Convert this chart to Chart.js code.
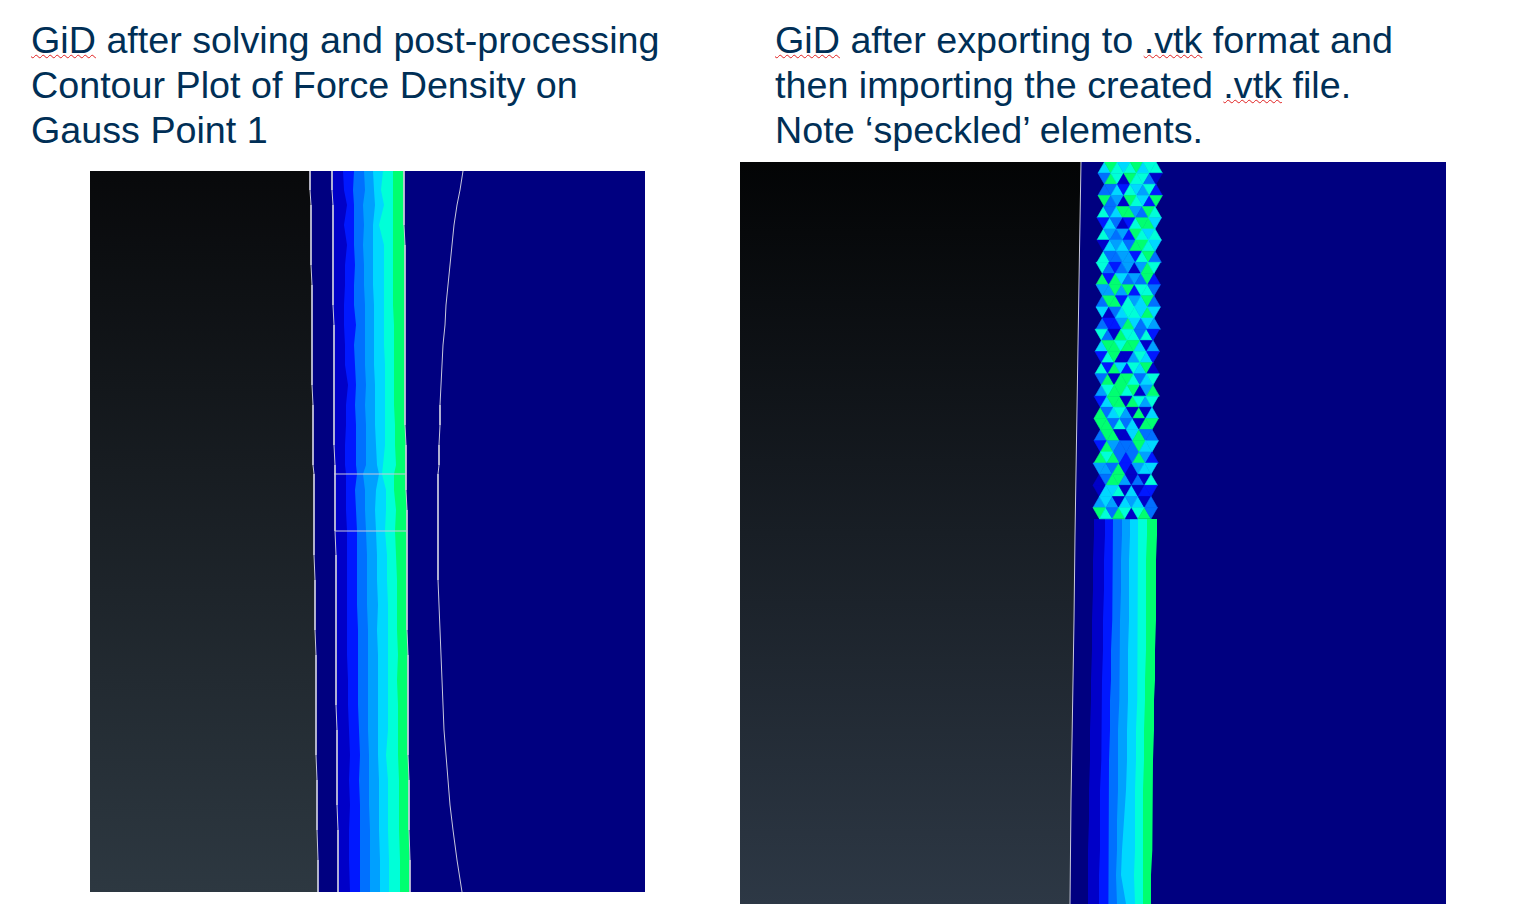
<!DOCTYPE html>
<html>
<head>
<meta charset="utf-8">
<script src="https://cdn.jsdelivr.net/npm/chart.js@4"></script>
<style>
  html, body { margin: 0; background: #fff; overflow: hidden; }
  canvas { position: absolute; background: #000080; }
  .note {
    position: absolute;
    font: 37.7px/45px "Liberation Sans", Arial, sans-serif;
    color: #002f56;
    white-space: nowrap;
  }
  .sp { text-decoration: underline wavy #e02020 1px; text-underline-offset: 1px; }
</style>
</head>
<body>
<div class="note" style="left:31px;top:18px">
  <span class="sp">GiD</span> after solving and post-processing<br>Contour Plot of Force Density on<br>Gauss Point 1
</div>
<div class="note" style="left:775px;top:18px">
  <span class="sp">GiD</span> after exporting to <span class="sp">.vtk</span> format and<br>then importing the created <span class="sp">.vtk</span> file.<br>Note ‘speckled’ elements.
</div>
<canvas id="leftPlot" width="555" height="721" style="left:90px;top:171px"></canvas>
<canvas id="rightPlot" width="706" height="742" style="left:740px;top:162px"></canvas>
<script>
// contour level colours, low to high
const levelColors = ['#000080', '#0000c8', '#0018ff', '#0070ff', '#00a0ff', '#00d8ff', '#00ffd8', '#00ff70'];

// left plot: contour band edges along the height
const leftY = [171,190,205,225,245,265,285,305,325,345,365,385,405,425,445,465,474,490,510,531,555,580,605,630,655,680,705,730,755,780,805,830,860,892];
const leftBody = [310,310,311,311,311,311,312,312,312,312,312,312,313,313,313,313,314,314,314,314,314,315,315,315,316,316,316,316,316,317,317,317,318,318];
const leftInner = [332,332,333,333,333,333,333,333,334,334,334,334,334,334,334,335,335,335,335,335,336,336,336,336,336,336,336,337,337,337,337,338,338,338];
const leftBand1 = [343,344,347,344,347,345,345,344,344,345,345,348,346,346,345,345,346,346,346,347,347,347,347,347,347,348,348,349,350,349,350,349,349,350];
const leftBand2 = [354,353,354,354,354,355,354,354,356,354,355,356,355,356,356,356,357,355,356,357,357,357,357,358,358,358,358,359,360,359,360,360,360,360];
const leftBand3 = [364,365,363,364,363,364,364,365,365,365,365,366,365,366,366,366,363,365,365,366,367,367,367,368,368,368,368,368,369,369,369,370,370,370];
const leftBand4 = [373,374,375,373,373,373,373,374,374,374,374,375,375,375,376,377,379,376,375,376,377,377,378,377,378,378,378,378,378,379,379,379,380,380];
const leftBand5 = [383,381,384,379,384,384,384,384,384,384,385,385,385,385,385,383,382,386,386,385,387,387,388,388,388,388,388,388,386,388,388,388,389,389];
const leftBand6 = [393,393,393,393,393,393,393,393,394,394,394,394,394,395,395,396,394,394,396,395,396,397,397,397,398,397,398,398,398,399,399,399,400,400];
const leftBand7 = [404,404,404,404,405,405,405,405,405,405,405,405,405,405,406,406,406,406,407,407,407,407,407,407,408,408,408,408,408,409,409,409,410,410];
const leftOuter = [463,460,457,454,452,450,448,446,445,443,442,441,440,440,439,439,438,438,438,438,438,438,439,440,441,442,443,444,446,448,450,453,457,462];
const leftCuts = [474, 531];
const leftCutFrom = [334, 335];
const leftCutTo = [406, 406];

// right plot: solid bands under the speckled part
const rightY = [519,535,560,590,620,650,680,700,730,760,790,820,850,875,904];
const rightBand0 = [1094,1094,1093,1093,1092,1092,1091,1091,1090,1090,1089,1089,1088,1088,1088];
const rightBand1 = [1105,1105,1104,1104,1103,1103,1102,1102,1101,1101,1100,1100,1100,1099,1099];
const rightBand2 = [1113,1113,1112,1112,1112,1111,1111,1110,1110,1109,1108,1108,1108,1109,1109];
const rightBand3 = [1122,1122,1121,1121,1120,1120,1119,1119,1118,1118,1118,1117,1117,1116,1117];
const rightBand4 = [1130,1130,1129,1129,1129,1128,1128,1128,1127,1127,1126,1124,1122,1121,1126];
const rightBand5 = [1138,1138,1138,1137,1137,1137,1137,1137,1136,1136,1135,1135,1135,1134,1135];
const rightBand6 = [1147,1147,1146,1146,1146,1146,1145,1145,1144,1144,1143,1143,1143,1143,1143];
const rightBand7 = [1157,1157,1156,1156,1156,1155,1155,1154,1154,1153,1153,1152,1152,1151,1151];
const rightEdgeY = [162,250,345,440,535,620,700,800,904];
const rightEdge = [1081,1079.5,1078,1076.5,1075,1074,1072.7,1071,1070];

// speckled elements, one string per mesh row, one digit per triangle
const speckleRows = [
  '576567566', '376176631', '335265462', '734176527', '635774376', '253126775',
  '643427656', '154537765', '633442673', '632341476', '727534372', '447472663',
  '377264573', '513566575', '322475354', '631766362', '577677514', '267114652',
  '627526571', '371776356', '467767147', '257717646', '735641715', '773635177',
  '377115733', '274333755', '767323742', '443721455', '137741316', '155615122',
  '454154513', '763761673'
];
const speckleStart = [1098,1098,1098,1098,1097,1097,1097,1097,1097,1096,1096,1096,1096,1096,1096,1095,1095,1095,1095,1095,1095,1094,1094,1094,1094,1094,1094,1093,1093,1093,1093,1093];

const toPoints = (xs, ys) => xs.map((x, i) => ({ x, y: ys[i] }));

// dark body on the left of each view, lighter towards the bottom
function bodyGradient(top, bottom) {
  return ({ chart }) => {
    if (!chart.chartArea) return top;
    const g = chart.ctx.createLinearGradient(0, chart.chartArea.top, 0, chart.chartArea.bottom);
    g.addColorStop(0, top);
    g.addColorStop(1, bottom);
    return g;
  };
}

// each band is filled from its right edge back to the left side of the plot,
// the later datasets are painted first so the layers overlap without seams
function band(xs, ys, color, xMin) {
  return { data: toPoints(xs, ys), backgroundColor: color, fill: { value: xMin }, borderWidth: 0, pointRadius: 0, tension: 0 };
}

function wire(xs, ys) {
  return { data: toPoints(xs, ys), borderColor: '#c8c8dc', borderWidth: 1, pointRadius: 0, fill: false, tension: 0 };
}

function triangles(points, radius) {
  return {
    data: points,
    showLine: false,
    pointStyle: 'triangle',
    pointRadius: radius,
    pointBorderWidth: 0.6,
    pointRotation: ctx => (ctx.raw && ctx.raw.up ? 0 : 180),
    pointBackgroundColor: ctx => levelColors[ctx.raw ? ctx.raw.level : 0],
    pointBorderColor: ctx => levelColors[ctx.raw ? ctx.raw.level : 0]
  };
}

function makeOptions(xMin, xMax, yMin, yMax) {
  return {
    indexAxis: 'y',
    responsive: false,
    animation: false,
    devicePixelRatio: 1,
    layout: { padding: 0, autoPadding: false },
    plugins: { legend: { display: false }, tooltip: { enabled: false } },
    scales: {
      x: { type: 'linear', display: false, min: xMin, max: xMax },
      y: { type: 'linear', display: false, min: yMin, max: yMax, reverse: true }
    }
  };
}

new Chart(document.getElementById('leftPlot'), {
  type: 'line',
  data: {
    datasets: [
      wire([leftCutFrom[0], leftCutTo[0]], [leftCuts[0], leftCuts[0]]),
      wire([leftCutFrom[1], leftCutTo[1]], [leftCuts[1], leftCuts[1]]),
      wire(leftBody, leftY),
      wire(leftInner, leftY),
      wire(leftBand7, leftY),
      wire(leftOuter, leftY),
      band(leftBody, leftY, bodyGradient('#08090b', '#2d3841'), 90),
      band(leftInner, leftY, levelColors[0], 90),
      band(leftBand1, leftY, levelColors[1], 90),
      band(leftBand2, leftY, levelColors[2], 90),
      band(leftBand3, leftY, levelColors[3], 90),
      band(leftBand4, leftY, levelColors[4], 90),
      band(leftBand5, leftY, levelColors[5], 90),
      band(leftBand6, leftY, levelColors[6], 90),
      band(leftBand7, leftY, levelColors[7], 90)
    ]
  },
  options: makeOptions(90, 645, 171, 892)
});

// one triangle per digit, pointing up and down in turn so the rows tessellate
const rowHeight = 11.15;
const halfSide = 6.44;
const specklePoints = [];
speckleRows.forEach((row, r) => {
  row.split('').forEach((digit, c) => {
    const up = (r + c) % 2 === 0;
    specklePoints.push({
      x: speckleStart[r] + (c + 1) * halfSide,
      y: 162 + r * rowHeight + (up ? 2 / 3 : 1 / 3) * rowHeight,
      level: Number(digit),
      up
    });
  });
});

new Chart(document.getElementById('rightPlot'), {
  type: 'line',
  data: {
    datasets: [
      wire(rightEdge, rightEdgeY),
      triangles(specklePoints, 7.43),
      band(rightEdge, rightEdgeY, bodyGradient('#030405', '#2d3845'), 740),
      band(rightBand0, rightY, levelColors[0], 740),
      band(rightBand1, rightY, levelColors[1], 740),
      band(rightBand2, rightY, levelColors[2], 740),
      band(rightBand3, rightY, levelColors[3], 740),
      band(rightBand4, rightY, levelColors[4], 740),
      band(rightBand5, rightY, levelColors[5], 740),
      band(rightBand6, rightY, levelColors[6], 740),
      band(rightBand7, rightY, levelColors[7], 740)
    ]
  },
  options: makeOptions(740, 1446, 162, 904)
});
</script>
</body>
</html>
